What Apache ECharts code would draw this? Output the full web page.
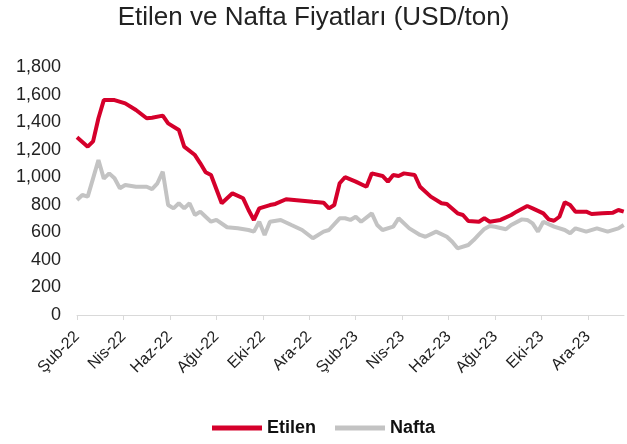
<!DOCTYPE html>
<html>
<head>
<meta charset="utf-8">
<script src="https://cdn.jsdelivr.net/npm/echarts@6/dist/echarts.min.js"></script>
<style>
  html, body { margin: 0; padding: 0; background: #fff; }
  #main { width: 627px; height: 444px; }
</style>
</head>
<body>
<div id="main"></div>
<script>
// weeks since 1 Feb 2022
var etilenWeeks = [0, 2, 3, 4, 5, 7, 9, 11, 13, 14, 16, 17, 19, 20, 22, 23, 24, 25, 27, 29, 31, 32, 33, 34, 36, 37, 39, 42, 44, 46, 47, 48, 49, 50, 52, 54, 55, 57, 58, 59, 60, 61, 63, 64, 66, 68, 69, 71, 72, 73, 75, 76, 77, 79, 81, 82, 84, 85, 87, 88, 89, 90, 91, 92, 93, 95, 96, 98, 100, 101, 102];
var etilenValues = [1290, 1222, 1260, 1428, 1560, 1560, 1536, 1488, 1428, 1432, 1447, 1391, 1343, 1222, 1161, 1101, 1036, 1016, 811, 883, 847, 762, 690, 774, 798, 806, 840, 830, 822, 815, 774, 798, 956, 1000, 968, 931, 1028, 1009, 968, 1016, 1009, 1028, 1016, 931, 859, 811, 806, 738, 726, 682, 677, 702, 677, 690, 726, 750, 791, 774, 738, 694, 684, 713, 818, 798, 750, 750, 733, 738, 743, 762, 750];

var naftaWeeks = [0, 1, 2, 3, 4, 5, 6, 7, 8, 9, 11, 13, 14, 15, 16, 17, 18, 19, 20, 21, 22, 23, 24, 25, 26, 28, 30, 32, 33, 34, 35, 36, 38, 40, 42, 44, 46, 47, 49, 50, 51, 52, 53, 55, 56, 57, 59, 60, 62, 64, 65, 67, 69, 70, 71, 73, 74, 75, 76, 77, 78, 80, 81, 83, 84, 85, 86, 87, 89, 91, 92, 93, 95, 97, 99, 101, 102];
var naftaValues = [835, 871, 859, 992, 1125, 990, 1028, 992, 920, 944, 931, 931, 914, 956, 1040, 798, 774, 811, 774, 811, 726, 750, 713, 677, 690, 637, 629, 617, 605, 677, 581, 677, 690, 653, 617, 557, 605, 617, 702, 702, 690, 713, 677, 738, 653, 617, 641, 702, 629, 581, 568, 605, 568, 532, 484, 508, 544, 585, 625, 646, 641, 622, 653, 694, 690, 665, 605, 677, 641, 617, 593, 629, 605, 629, 605, 629, 653];

var xLabels = ['Şub-22', 'Nis-22', 'Haz-22', 'Ağu-22', 'Eki-22', 'Ara-22', 'Şub-23', 'Nis-23', 'Haz-23', 'Ağu-23', 'Eki-23', 'Ara-23'];

function toPoints(weeks, values) {
  var res = [];
  for (var i = 0; i < weeks.length; i++) {
    res.push([weeks[i] * 12 / 52, values[i]]);
  }
  return res;
}

var tickMonths = xLabels.map(function (l, i) { return i * 2; });

var myChart = echarts.init(document.getElementById('main'));
myChart.setOption({
  animation: false,
  textStyle: { fontFamily: 'Liberation Sans, Arial, sans-serif' },
  title: {
    text: 'Etilen ve Nafta Fiyatları (USD/ton)',
    left: 'center',
    top: 0,
    textStyle: { fontSize: 26, fontWeight: 'normal', color: '#222' }
  },
  legend: {
    top: 414,
    left: 212,
    icon: 'rect',
    itemWidth: 50,
    itemHeight: 5,
    itemGap: 19,
    padding: [5, 0],
    textStyle: { fontSize: 18, fontWeight: 'bold', color: '#111' },
    data: ['Etilen', 'Nafta']
  },
  grid: { left: 77, right: 3, top: 67, bottom: 129 },
  xAxis: {
    type: 'value',
    min: 0,
    max: 23.55,
    interval: 2,
    splitLine: { show: false },
    axisLine: { lineStyle: { color: '#d9d9d9', width: 1 } },
    axisTick: { show: true, length: 5, customValues: tickMonths, lineStyle: { color: '#d9d9d9' } },
    axisLabel: {
      customValues: tickMonths,
      rotate: 45,
      margin: 19,
      fontSize: 16,
      color: '#222',
      formatter: function (v) { return xLabels[Math.round(v / 2)] || ''; }
    }
  },
  yAxis: {
    type: 'value',
    min: 0,
    max: 1800,
    interval: 200,
    splitLine: { show: false },
    axisLine: { show: false },
    axisTick: { show: false },
    axisLabel: {
      fontSize: 18,
      color: '#222',
      margin: 16,
      formatter: function (v) { return v.toLocaleString('en-US'); }
    }
  },
  series: [
    {
      name: 'Etilen',
      type: 'line',
      data: toPoints(etilenWeeks, etilenValues),
      showSymbol: false,
      lineStyle: { color: '#d5002b', width: 4 },
      itemStyle: { color: '#d5002b' },
      z: 3
    },
    {
      name: 'Nafta',
      type: 'line',
      data: toPoints(naftaWeeks, naftaValues),
      showSymbol: false,
      lineStyle: { color: '#c3c3c3', width: 4 },
      itemStyle: { color: '#c3c3c3' },
      z: 2
    }
  ]
});
</script>
</body>
</html>
